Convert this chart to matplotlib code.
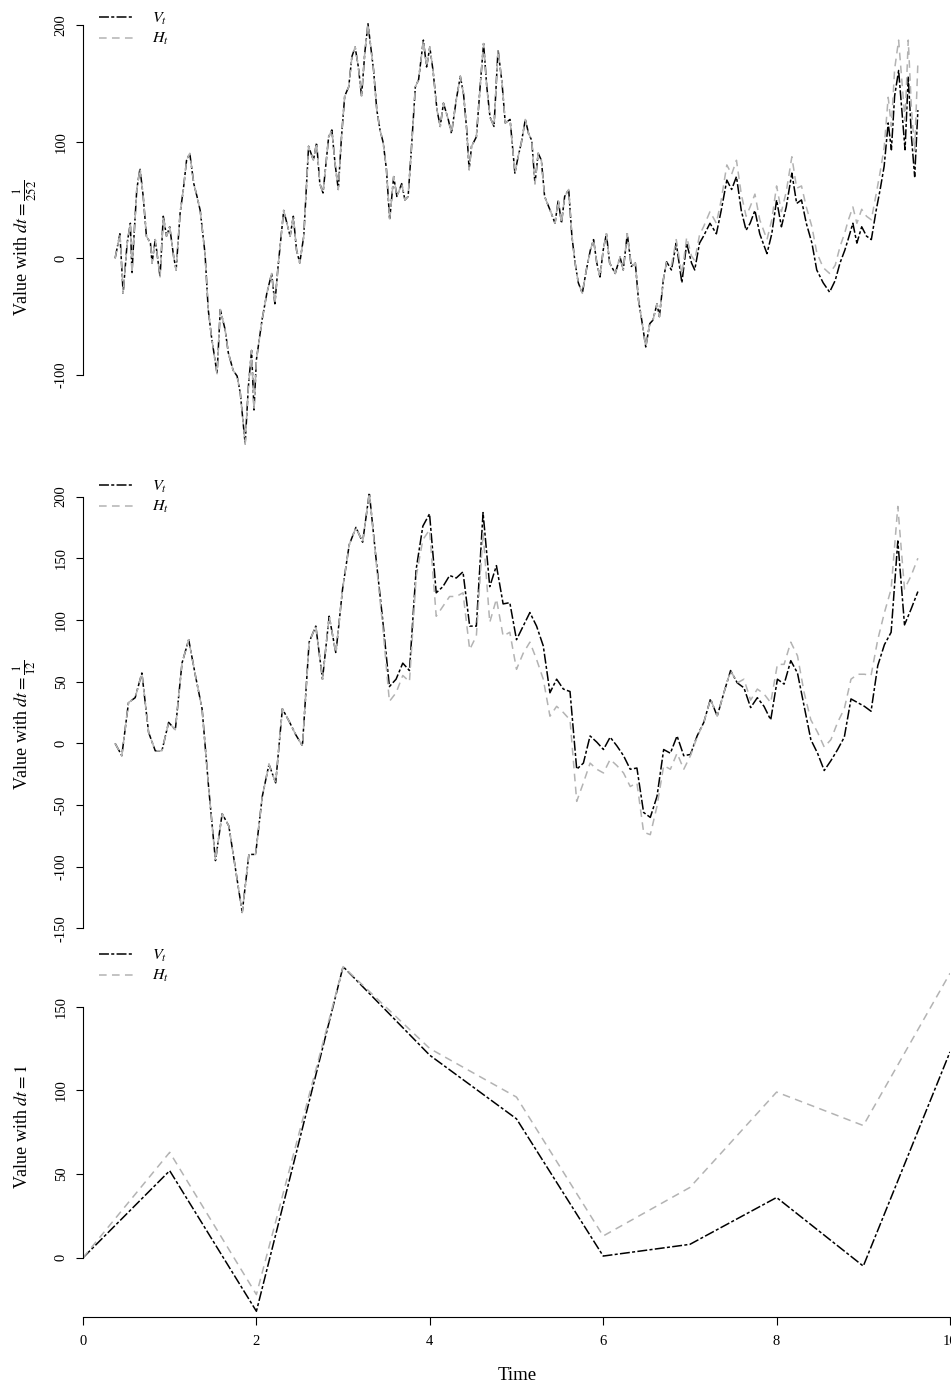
import matplotlib
matplotlib.use("Agg")
import matplotlib.pyplot as plt
from matplotlib.lines import Line2D

plt.rcParams["font.family"] = ["Liberation Serif", "DejaVu Serif"]
plt.rcParams["mathtext.fontset"] = "stix"

# dt = 1/252 path at roughly half-month steps (years)
daily_time = [
    0.00, 0.06, 0.10, 0.15, 0.19, 0.21, 0.23, 0.27, 0.31, 0.35, 0.39, 0.44, 0.46, 0.50,
    0.56, 0.60, 0.64, 0.68, 0.73, 0.76, 0.81, 0.85, 0.89, 0.93, 0.98, 1.02, 1.06, 1.12,
    1.16, 1.20, 1.27, 1.31, 1.37, 1.41, 1.47, 1.52, 1.56, 1.62, 1.66, 1.70, 1.73, 1.76,
    1.83, 1.89, 1.95, 1.99, 2.03, 2.10, 2.14, 2.18, 2.22, 2.26, 2.30, 2.35, 2.41, 2.47,
    2.51, 2.55, 2.59, 2.66, 2.70, 2.74, 2.78, 2.82, 2.86, 2.91, 2.95, 2.99, 3.03, 3.07,
    3.11, 3.15, 3.22, 3.26, 3.30, 3.34, 3.38, 3.42, 3.47, 3.51, 3.57, 3.61, 3.65, 3.69,
    3.74, 3.78, 3.84, 3.88, 3.92, 3.96, 4.01, 4.05, 4.09, 4.15, 4.19, 4.25, 4.30, 4.34,
    4.38, 4.41, 4.44, 4.50, 4.55, 4.59, 4.63, 4.67, 4.72, 4.77, 4.82, 4.86, 4.92, 4.98,
    5.02, 5.06, 5.11, 5.15, 5.19, 5.23, 5.27, 5.31, 5.35, 5.42, 5.48, 5.52, 5.56, 5.60,
    5.65, 5.69, 5.73, 5.77, 5.82, 5.87, 5.92, 5.96, 6.00, 6.04, 6.08, 6.12, 6.16, 6.23,
    6.29, 6.33, 6.38, 6.43, 6.48, 6.52, 6.56, 6.61, 6.66, 6.70, 6.75, 6.78, 6.83, 6.87,
    6.93, 6.99, 7.06, 7.12, 7.18, 7.22, 7.28, 7.33, 7.41, 7.49, 7.55, 7.62, 7.68, 7.74,
    7.80, 7.86, 7.91, 7.97, 8.03, 8.12, 8.18, 8.24, 8.30, 8.36, 8.43, 8.49, 8.55, 8.61,
    8.68, 8.74, 8.82, 8.90, 8.97, 9.03, 9.09, 9.13, 9.19, 9.24, 9.30, 9.36, 9.42, 9.48,
    9.53, 9.58, 9.63, 9.67, 9.71, 9.76, 9.80, 9.84, 9.88, 9.92, 9.96, 10.00,
]
daily_v = [
    0, 21, -30, 13, 30, -13, 13, 59, 77, 53, 19, 13, -4, 16,
    -16, 36, 19, 27, 1, -10, 39, 59, 84, 90, 64, 53, 41, 4,
    -44, -67, -99, -44, -61, -81, -96, -101, -116, -159, -110, -79, -130, -87,
    -53, -30, -13, -39, -7, 41, 30, 19, 36, 7, -4, 19, 96, 84,
    99, 64, 56, 104, 110, 81, 59, 104, 139, 147, 173, 181, 164, 139,
    176, 201, 161, 127, 110, 99, 76, 33, 70, 53, 64, 50, 53, 93,
    147, 153, 187, 164, 181, 161, 127, 113, 133, 119, 107, 136, 156, 141,
    110, 76, 96, 104, 150, 184, 147, 121, 113, 179, 150, 116, 119, 73,
    87, 99, 119, 107, 101, 64, 90, 84, 53, 41, 30, 50, 30, 53,
    59, 19, -4, -21, -30, -10, 7, 16, -4, -16, 7, 21, -4, -13,
    1, -10, 21, -7, -4, -36, -53, -76, -56, -53, -39, -50, -18, -3,
    -10, 13, -21, 13, -4, -10, 13, 19, 30, 21, 41, 67, 59, 70,
    41, 24, 30, 41, 21, 4, 21, 50, 27, 44, 73, 47, 50, 30,
    13, -10, -21, -29, -19, -4, 7, 16, 30, 13, 27, 19, 16, 41,
    59, 79, 116, 93, 139, 161, 127, 93, 156, 104, 70, 127,
]
daily_h = [
    0, 21, -30, 13, 30, -13, 13, 59, 77, 53, 19, 13, -4, 16,
    -16, 36, 19, 27, 1, -10, 39, 59, 84, 90, 64, 53, 41, 4,
    -44, -67, -99, -44, -61, -81, -96, -101, -116, -159, -110, -79, -130, -87,
    -53, -30, -13, -39, -7, 41, 30, 19, 36, 7, -4, 19, 96, 84,
    99, 64, 56, 104, 110, 81, 59, 104, 139, 147, 173, 181, 164, 139,
    176, 201, 161, 127, 110, 99, 76, 33, 70, 53, 64, 50, 53, 93,
    147, 153, 187, 164, 181, 161, 127, 113, 133, 119, 107, 136, 156, 141,
    110, 76, 96, 104, 150, 184, 147, 121, 113, 179, 150, 116, 119, 73,
    87, 99, 119, 107, 101, 64, 90, 84, 53, 41, 30, 50, 30, 53,
    59, 19, -4, -21, -30, -10, 7, 16, -4, -16, 7, 21, -4, -13,
    1, -10, 21, -7, -4, -36, -53, -76, -56, -53, -39, -50, -18, -3,
    -6, 16, -14, 18, 2, -2, 20, 27, 40, 30, 50, 80, 72, 84,
    55, 36, 44, 55, 33, 16, 33, 62, 40, 57, 87, 60, 62, 44,
    27, 5, -8, -13, -6, 10, 22, 32, 44, 30, 42, 36, 33, 55,
    74, 95, 138, 113, 162, 187, 152, 118, 187, 128, 92, 168,
]

# dt = 1/12 path, one value per month from t = 0 to t = 10
monthly_v = [
    0, -10, 33, 37, 57, 9, -6, -6, 17, 11,
    65, 84, 55, 28, -37, -95, -57, -67, -102, -137,
    -90, -90, -43, -17, -32, 28, 18, 7, -2, 82,
    95, 52, 103, 73, 125, 161, 175, 163, 203, 150,
    100, 46, 52, 65, 59, 141, 176, 186, 122, 127,
    136, 134, 139, 95, 95, 187, 127, 144, 113, 114,
    84, 95, 106, 95, 79, 41, 52, 44, 42, -21,
    -16, 6, 1, -5, 5, -2, -10, -21, -20, -56,
    -60, -43, -5, -8, 6, -10, -9, 6, 17, 36,
    22, 41, 59, 49, 45, 29, 37, 30, 19, 52,
    48, 67, 57, 30, 3, -8, -22, -14, -5, 5,
    36, 33, 30, 26, 63, 80, 90, 164, 96, 109, 123,
]
monthly_h = [
    0, -10, 33, 37, 57, 9, -6, -6, 17, 11,
    65, 84, 55, 28, -37, -95, -57, -67, -102, -137,
    -90, -90, -43, -17, -32, 28, 18, 7, -2, 82,
    95, 52, 103, 73, 125, 161, 175, 163, 203, 148,
    95, 34, 41, 55, 50, 135, 165, 173, 103, 111,
    119, 119, 122, 76, 87, 171, 98, 117, 87, 90,
    60, 73, 82, 68, 52, 22, 30, 25, 19, -47,
    -32, -16, -21, -24, -13, -18, -24, -35, -32, -72,
    -74, -51, -18, -21, -8, -21, -10, 5, 17, 36,
    22, 41, 59, 49, 52, 35, 44, 40, 33, 64,
    64, 82, 71, 41, 19, 9, -3, 3, 17, 28,
    52, 56, 56, 55, 84, 106, 125, 192, 125, 136, 150,
]

# dt = 1 path, one value per year
yearly_time = [0, 1, 2, 3, 4, 5, 6, 7, 8, 9, 10]
yearly_v = [0, 52, -32, 174, 121, 83, 1, 8, 36, -5, 123]
yearly_h = [0, 63, -22, 174, 125, 96, 13, 42, 99, 79, 170]

V_COLOR = "black"
H_COLOR = "#b3b3b3"
V_DASH = (6.5, 1.5, 2, 1.5)
H_DASH = (5, 3.5)
LW = 1.1

W, H = 951, 1387


def fx(px):
    return px / W


def fy(py):
    return 1 - py / H


def draw_panel(fig, rect, t, v, h, ylim, yticks, xlim, legend_top):
    ax = fig.add_axes(rect)
    ax.plot(t, v, color=V_COLOR, lw=LW, dashes=V_DASH)
    ax.plot(t, h, color=H_COLOR, lw=LW, dashes=H_DASH)
    ax.set_xlim(*xlim)
    ax.set_ylim(*ylim)

    for side in ["top", "right", "bottom"]:
        ax.spines[side].set_visible(False)
    ax.spines["left"].set_bounds(yticks[0], yticks[-1])
    ax.spines["left"].set_linewidth(0.8)

    ax.set_yticks(yticks)
    ax.set_yticklabels([str(k) for k in yticks])
    ax.tick_params(axis="y", length=5, width=0.8, pad=6, labelsize=10.5)
    plt.setp(ax.get_yticklabels(), rotation=90, va="center")
    ax.set_xticks([])

    handles = [
        Line2D([], [], color=V_COLOR, lw=LW, dashes=V_DASH),
        Line2D([], [], color=H_COLOR, lw=LW, dashes=H_DASH),
    ]
    ax.legend(handles, ["$V_t$", "$H_t$"], loc="upper left",
              bbox_to_anchor=(fx(99), fy(legend_top)),
              bbox_transform=fig.transFigure, frameon=False, fontsize=11.5,
              handlelength=2.1, handletextpad=1.2, labelspacing=0.25,
              borderpad=0, borderaxespad=0)
    return ax


def main():
    fig = plt.figure(figsize=(W / 100, H / 100), dpi=100)
    left, width = fx(83), 867 / W
    padded = (-0.4, 10.4)

    draw_panel(fig, [left, fy(460), width, 455 / H], daily_time, daily_v,
               daily_h, (-172.9, 217.1), [-100, 0, 100, 200], padded, 11)

    month_time = [i / 12 for i in range(len(monthly_v))]
    draw_panel(fig, [left, fy(935), width, 465 / H], month_time, monthly_v,
               monthly_h, (-155.3, 221.5),
               [-150, -100, -50, 0, 50, 100, 150, 200], padded, 479)

    ax = draw_panel(fig, [left, fy(1317.3), width, 372.3 / H], yearly_time,
                    yearly_v, yearly_h, (-35.6, 186.9), [0, 50, 100, 150],
                    (0, 10), 948)
    ax.spines["bottom"].set_visible(True)
    ax.spines["bottom"].set_bounds(0, 10)
    ax.spines["bottom"].set_linewidth(0.8)
    ax.set_xticks([0, 2, 4, 6, 8, 10])
    ax.tick_params(axis="x", length=6, width=0.8, pad=7, labelsize=10.5)

    fig.text(fx(25), fy(248), r"Value with $dt = \frac{1}{252}$",
             rotation=90, ha="center", va="center", fontsize=13)
    fig.text(fx(25), fy(725), r"Value with $dt = \frac{1}{12}$",
             rotation=90, ha="center", va="center", fontsize=13)
    fig.text(fx(23), fy(1127), r"Value with $dt = 1$",
             rotation=90, ha="center", va="center", fontsize=13)
    fig.text(fx(517), fy(1375), "Time", ha="center", va="center",
             fontsize=13.5)

    fig.savefig("out.png", dpi=100)


if __name__ == "__main__":
    main()
